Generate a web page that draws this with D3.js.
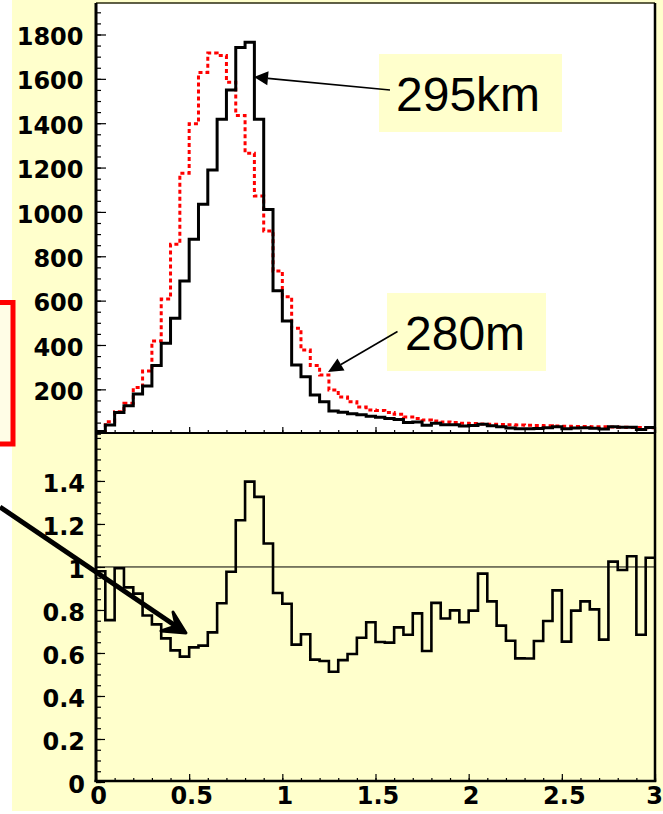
<!DOCTYPE html>
<html>
<head>
<meta charset="utf-8">
<script src="https://cdn.jsdelivr.net/npm/d3@7"></script>
<style>
  html, body { margin: 0; padding: 0; background: #ffffff; }
  svg { display: block; }
  .axis text { font-family: "DejaVu Sans", sans-serif; font-weight: bold; font-size: 24px; fill: #000; }
  .axis line { stroke: #000; stroke-width: 1.2; }
  .note { font-family: "Liberation Sans", Arial, sans-serif; font-size: 48px; fill: #000; }
</style>
</head>
<body>
<script>
// Histogram binning: 60 bins of 0.05 between 0 and 3
const binWidth = 0.05;
const binCount = 60;

// Entries per bin, 295 km detector (solid black)
const far295 = [10, 39, 96, 126, 179, 215, 307, 408, 520, 689,
  877, 1035, 1189, 1418, 1550, 1741, 1765, 1418, 1011, 644,
  508, 310, 257, 174, 144, 102, 97, 90, 85, 79,
  74, 68, 64, 51, 53, 38, 47, 40, 40, 35,
  37, 43, 36, 31, 26, 22, 22, 24, 27, 31,
  22, 26, 27, 25, 21, 31, 29, 29, 19, 28];

// Entries per bin, 280 m detector (dashed red)
const near280 = [8, 54, 99, 137, 208, 283, 418, 607, 854, 1174,
  1397, 1629, 1716, 1705, 1585, 1435, 1265, 1072, 914, 734,
  618, 475, 377, 307, 265, 197, 165, 144, 120, 107,
  105, 96, 88, 75, 68, 62, 57, 53, 50, 47,
  46, 44, 43, 42, 40, 39, 38, 37, 36, 35,
  34, 33, 32, 31, 31, 30, 29, 28, 28, 27];

// Far / near ratio per bin
const ratio = [0.98, 0.753, 0.994, 0.905, 0.876, 0.774, 0.733, 0.668, 0.612, 0.583,
  0.626, 0.634, 0.696, 0.831, 0.978, 1.217, 1.397, 1.326, 1.109, 0.879,
  0.829, 0.639, 0.687, 0.569, 0.563, 0.513, 0.567, 0.595, 0.671, 0.743,
  0.651, 0.648, 0.719, 0.685, 0.784, 0.609, 0.833, 0.760, 0.798, 0.743,
  0.797, 0.969, 0.840, 0.727, 0.657, 0.575, 0.574, 0.656, 0.749, 0.891,
  0.653, 0.797, 0.840, 0.803, 0.662, 1.025, 0.986, 1.050, 0.685, 1.043];

// Tick values and labels
const xTicks = [0, 0.5, 1, 1.5, 2, 2.5, 3];
const xTickLabels = ["0", "0.5", "1", "1.5", "2", "2.5", "3"];
const topTicks = [200, 400, 600, 800, 1000, 1200, 1400, 1600, 1800];
const topTickLabels = ["200", "400", "600", "800", "1000", "1200", "1400", "1600", "1800"];
const botTicks = [0, 0.2, 0.4, 0.6, 0.8, 1, 1.2, 1.4];
const botTickLabels = ["0", "0.2", "0.4", "0.6", "0.8", "1", "1.2", "1.4"];
const ratioReference = 1;
const notes = ["295km", "280m"];

const W = 663, H = 814;
const left = 96, right = 655;
const topY0 = 3, topY1 = 433.7;
const botY0 = 433, botY1 = 782;

const svg = d3.select("body").append("svg").attr("width", W).attr("height", H);

// backgrounds
svg.append("rect").attr("x", 12).attr("y", 0).attr("width", W - 12).attr("height", 811).attr("fill", "#ffffcc");
svg.append("rect").attr("x", 0).attr("y", 302).attr("width", 13).attr("height", 142).attr("fill", "#fffde6");
svg.append("rect").attr("x", left).attr("y", topY0).attr("width", right - left).attr("height", topY1 - topY0).attr("fill", "#ffffff");

const x = d3.scaleLinear().domain([0, 3]).range([left, right]);
const yTop = d3.scaleLinear().domain([0, 1942]).range([topY1, topY0]);
const yBot = d3.scaleLinear().domain([0, 1.623]).range([botY1, botY0]);

function stepPoints(vals) {
  const pts = vals.map((v, i) => [i * binWidth, v]);
  pts.push([binCount * binWidth, vals[vals.length - 1]]);
  return pts;
}

// ---- top panel histograms
const lineTop = d3.line().x(d => x(d[0])).y(d => yTop(d[1])).curve(d3.curveStepAfter);
svg.append("path").attr("d", lineTop(stepPoints(near280)))
  .attr("fill", "none").attr("stroke", "#ff0000").attr("stroke-width", 3)
  .attr("stroke-dasharray", "4,3");
svg.append("path").attr("d", lineTop(stepPoints(far295)))
  .attr("fill", "none").attr("stroke", "#000").attr("stroke-width", 3);

// ---- ratio panel
svg.append("line").attr("x1", left).attr("x2", right)
  .attr("y1", yBot(ratioReference)).attr("y2", yBot(ratioReference))
  .attr("stroke", "#000").attr("stroke-width", 1);
const lineBot = d3.line().x(d => x(d[0])).y(d => yBot(d[1])).curve(d3.curveStepAfter);
svg.append("path").attr("d", lineBot(stepPoints(ratio)))
  .attr("fill", "none").attr("stroke", "#000").attr("stroke-width", 2.6);

// ---- axes
function minorRange(a, b, s) { return d3.range(Math.round(a / s), Math.round(b / s) + 1).map(k => +(k * s).toFixed(4)); }

// top panel left axis
svg.append("g").attr("class", "axis").attr("transform", `translate(${left},0)`)
  .call(d3.axisLeft(yTop).tickValues(minorRange(0, 1900, 50)).tickSize(-5).tickFormat(""))
  .call(g => g.select(".domain").remove());
svg.append("g").attr("class", "axis").attr("transform", `translate(${left},0)`)
  .call(d3.axisLeft(yTop).tickValues(topTicks).tickSize(-10).tickPadding(12.5)
    .tickFormat((d, i) => topTickLabels[i]))
  .call(g => g.select(".domain").remove())
  .call(g => g.selectAll("text").attr("dy", "0.42em"));

// top panel bottom axis (ticks only)
svg.append("g").attr("class", "axis").attr("transform", `translate(0,${botY0})`)
  .call(d3.axisBottom(x).tickValues(minorRange(0, 3, 0.1)).tickSize(-3).tickFormat(""))
  .call(g => g.select(".domain").remove());
svg.append("g").attr("class", "axis").attr("transform", `translate(0,${botY0})`)
  .call(d3.axisBottom(x).tickValues(xTicks).tickSize(-6).tickFormat(""))
  .call(g => g.select(".domain").remove());

// ratio panel left axis
svg.append("g").attr("class", "axis").attr("transform", `translate(${left},0)`)
  .call(d3.axisLeft(yBot).tickValues(minorRange(0, 1.6, 0.05)).tickSize(-5).tickFormat(""))
  .call(g => g.select(".domain").remove());
svg.append("g").attr("class", "axis").attr("transform", `translate(${left},0)`)
  .call(d3.axisLeft(yBot).tickValues(botTicks).tickSize(-9).tickPadding(11)
    .tickFormat((d, i) => botTickLabels[i]))
  .call(g => g.select(".domain").remove())
  .call(g => g.selectAll("text").attr("dy", "0.42em"));

// ratio panel bottom axis
svg.append("g").attr("class", "axis").attr("transform", `translate(0,${botY1 - 1})`)
  .call(d3.axisBottom(x).tickValues(minorRange(0, 3, 0.1)).tickSize(-3).tickFormat(""))
  .call(g => g.select(".domain").remove());
svg.append("g").attr("class", "axis").attr("transform", `translate(0,${botY1 - 1})`)
  .call(d3.axisBottom(x).tickValues(xTicks).tickSize(-7).tickPadding(6)
    .tickFormat((d, i) => xTickLabels[i]))
  .call(g => g.select(".domain").remove())
  .call(g => g.selectAll("text").attr("dx", (d, i) => i === xTicks.length - 1 ? -1 : 2));

// ---- frames
svg.append("line").attr("x1", left).attr("x2", right).attr("y1", topY0).attr("y2", topY0)
  .attr("stroke", "#2a2a10").attr("stroke-width", 1.5);
svg.append("line").attr("x1", left).attr("x2", left).attr("y1", topY0).attr("y2", botY1)
  .attr("stroke", "#000").attr("stroke-width", 3);
svg.append("line").attr("x1", right).attr("x2", right).attr("y1", topY0).attr("y2", botY1)
  .attr("stroke", "#000").attr("stroke-width", 2.5);
svg.append("line").attr("x1", left).attr("x2", right).attr("y1", botY0).attr("y2", botY0)
  .attr("stroke", "#000").attr("stroke-width", 2.2);
svg.append("line").attr("x1", left - 1.5).attr("x2", right + 1.2).attr("y1", botY1 - 1).attr("y2", botY1 - 1)
  .attr("stroke", "#000").attr("stroke-width", 2.6);

// ---- annotations
function arrow(x1, y1, x2, y2, width, headLen, headHalf) {
  const a = Math.atan2(y2 - y1, x2 - x1);
  const bx = x2 - headLen * Math.cos(a), by = y2 - headLen * Math.sin(a);
  svg.append("line").attr("x1", x1).attr("y1", y1).attr("x2", bx).attr("y2", by)
    .attr("stroke", "#000").attr("stroke-width", width);
  const nx = -Math.sin(a), ny = Math.cos(a);
  svg.append("path")
    .attr("d", `M${x2},${y2}L${bx + nx * headHalf},${by + ny * headHalf}L${bx - nx * headHalf},${by - ny * headHalf}Z`)
    .attr("fill", "#000");
}

// label boxes
svg.append("rect").attr("x", 379).attr("y", 54).attr("width", 183).attr("height", 78).attr("fill", "#ffffcc");
svg.append("text").attr("class", "note").attr("x", 396).attr("y", 111).text(notes[0]);
svg.append("rect").attr("x", 387).attr("y", 293).attr("width", 159).attr("height", 78).attr("fill", "#ffffcc");
svg.append("text").attr("class", "note").attr("x", 405).attr("y", 350).text(notes[1]);

arrow(390, 90, 254, 77, 1.6, 14, 7);
arrow(397.5, 331.5, 328, 372, 1.6, 15, 7);

// thick pointer into the ratio dip
(function () {
  const x1 = 0, y1 = 507, x2 = 186, y2 = 633;
  svg.append("line").attr("x1", x1).attr("y1", y1).attr("x2", x2 - 8).attr("y2", y2 - 5.5)
    .attr("stroke", "#000").attr("stroke-width", 5);
  svg.append("path")
    .attr("d", `M${x2},${y2}L${173},${612}L${176},${626}L${161},${631}Z`)
    .attr("fill", "#000").attr("stroke", "#000").attr("stroke-width", 3).attr("stroke-linejoin", "round");
})();

// red bracket at the left edge
svg.append("path").attr("d", "M0,302.5H13V444H0")
  .attr("fill", "none").attr("stroke", "#ff0000").attr("stroke-width", 5);
</script>
</body>
</html>
